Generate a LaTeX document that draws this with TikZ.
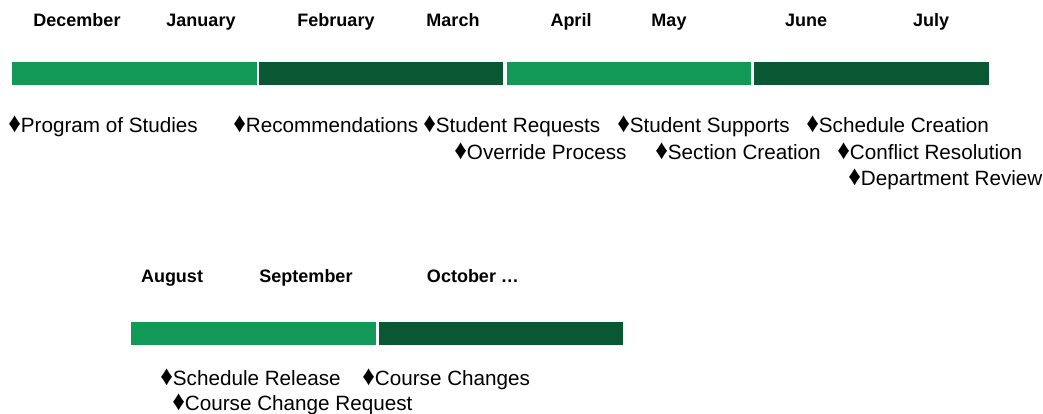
\documentclass[tikz,border=0pt]{standalone}
\usepackage{fontspec}
\setmainfont{Liberation Sans}
\definecolor{lightgrn}{HTML}{129957}
\definecolor{darkgrn}{HTML}{0A5734}
\tikzset{
  month/.style={anchor=base, inner sep=0pt, font=\fontsize{13.5}{16}\selectfont\bfseries},
  task/.style={anchor=base west, inner sep=0pt, font=\fontsize{15.5}{18}\selectfont},
}
\newcommand{\dmd}{\scalebox{1.2}[1.35]{♦}}
\begin{document}
\begin{tikzpicture}[x=0.75pt, y=-0.75pt]
    \useasboundingbox (0,0) rectangle (1043,414);
    % first row of months
    \node[month] (dec) at (77,26.5) {December};
    \node[month] (jan) at (201,26.5) {January};
    \node[month] (feb) at (336,26.5) {February};
    \node[month] (mar) at (453,26.5) {March};
    \node[month] (apr) at (571,26.5) {April};
    \node[month] (may) at (669,26.5) {May};
    \node[month] (jun) at (806,26.5) {June};
    \node[month] (jul) at (931,26.5) {July};
    \fill[lightgrn] (12,62) rectangle (257,85);
    \fill[darkgrn] (259,62) rectangle (503,85);
    \fill[lightgrn] (507,62) rectangle (751,85);
    \fill[darkgrn] (754,62) rectangle (989,85);
    \node[task] (pos) at (8,132) {\dmd Program of Studies};
    \node[task] (rec) at (233,132) {\dmd Recommendations};
    \node[task] (req) at (423,132) {\dmd Student Requests};
    \node[task] (sup) at (617,132) {\dmd Student Supports};
    \node[task] (sch) at (806,132) {\dmd Schedule Creation};
    \node[task] (ovr) at (454,159) {\dmd Override Process};
    \node[task] (sec) at (655,159) {\dmd Section Creation};
    \node[task] (con) at (837,159) {\dmd Conflict Resolution};
    \node[task] (dep) at (848,185) {\dmd Department Review};
    % second row of months
    \node[month] (aug) at (172,282.5) {August};
    \node[month] (sep) at (306,282.5) {September};
    \node[month] (oct) at (473,282.5) {October \dots};
    \fill[lightgrn] (131,322) rectangle (376,345);
    \fill[darkgrn] (379,322) rectangle (623,345);
    \node[task] (rel) at (160,385) {\dmd Schedule Release};
    \node[task] (chg) at (362,385) {\dmd Course Changes};
    \node[task] (ccr) at (172,410) {\dmd Course Change Request};
\end{tikzpicture}
\end{document}
